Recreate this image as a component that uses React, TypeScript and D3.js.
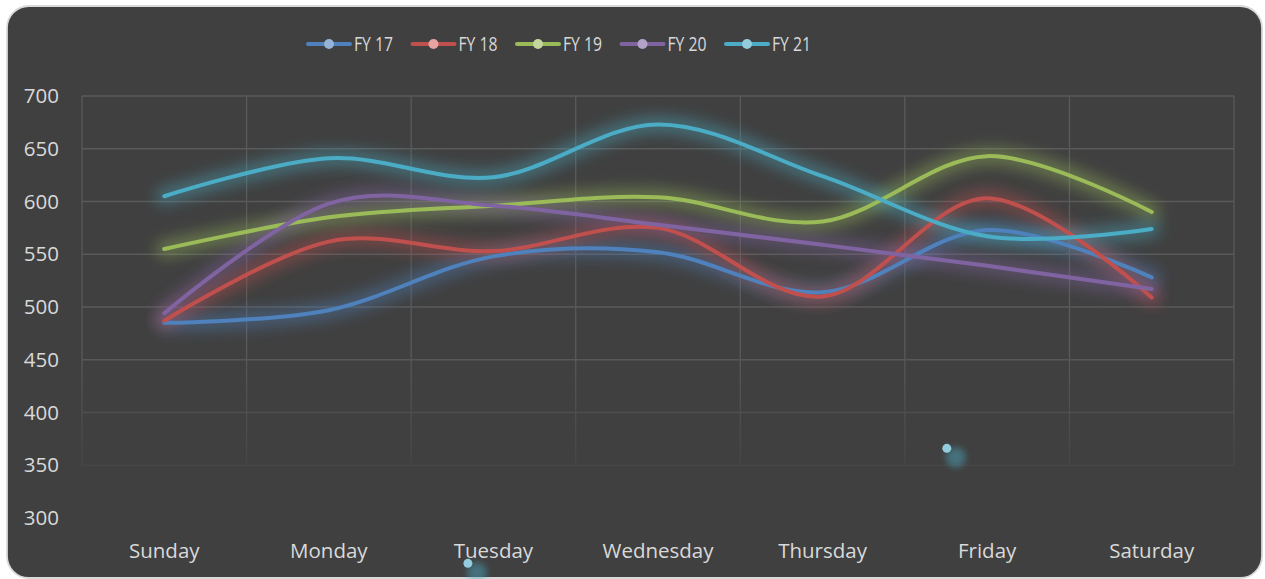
import React from "react";
import * as d3 from "d3";

const days = ["Sunday", "Monday", "Tuesday", "Wednesday", "Thursday", "Friday", "Saturday"];
const seriesNames = ["FY 17", "FY 18", "FY 19", "FY 20", "FY 21"];
const fy17 = [485, 497, 548, 552, 514, 573, 528];
const fy18 = [487, 562, 553, 575, 510, 603, 509];
const fy19 = [555, 585, 596, 604, 581, 643, 590];
const fy20 = [494, 598, 596, 578, 559, 539, 517];
const fy21 = [605, 641, 623, 673, 624, 567, 574];
const yTicks = [300, 350, 400, 450, 500, 550, 600, 650, 700];
const gridTicks = [350, 400, 450, 500, 550, 600, 650, 700];
const lineColors = ["#4f81bd", "#c0504d", "#9bbb59", "#8064a2", "#4bacc6"];
const markerColors = ["#95b3d7", "#e6a3a1", "#c3d69b", "#b3a2c7", "#93cddd"];
// stray FY 21 markers visible in the reference (category position, value)
const strayMarkers = [
  { pos: 1.845, value: 257 },
  { pos: 4.755, value: 366 },
];

const W = 1265;
const H = 579;
const plotLeft = 82;
const plotRight = 1234;
const font = "'Open Sans', 'Noto Sans', sans-serif";

export default function App() {
  const allSeries = [fy17, fy18, fy19, fy20, fy21];
  const x = d3.scaleBand<string>().domain(days).range([plotLeft, plotRight]);
  const xc = (i: number) => (x(days[i]) as number) + x.bandwidth() / 2;
  const xPos = d3.scaleLinear().domain([0, days.length - 1]).range([xc(0), xc(days.length - 1)]);
  const y = d3.scaleLinear().domain([300, 700]).range([518, 96]);
  const line = d3
    .line<number>()
    .x((_, i) => xc(i))
    .y((v) => y(v))
    .curve(d3.curveCardinal.tension(0));

  const legendX0 = 308;
  const legendStep = 104.5;

  return (
    <svg
      width={W}
      height={H}
      style={{ position: "absolute", left: 0, top: 0, display: "block" }}
    >
      <defs>
        <filter id="glow" x="-20%" y="-50%" width="140%" height="200%">
          <feGaussianBlur stdDeviation="7" />
        </filter>
        <filter id="dotglow" x="-100%" y="-100%" width="300%" height="300%">
          <feGaussianBlur stdDeviation="3" />
        </filter>
        <linearGradient id="fadeGrad" gradientUnits="userSpaceOnUse"
          x1="0" y1={y(460)} x2="0" y2={y(350)}>
          <stop offset="0" stopColor="#fff" stopOpacity="1" />
          <stop offset="1" stopColor="#fff" stopOpacity="0.25" />
        </linearGradient>
        <mask id="fadeMask" maskUnits="userSpaceOnUse" x="0" y="0" width={W} height={H}>
          <rect x={0} y={0} width={W} height={H} fill="url(#fadeGrad)" />
        </mask>
      </defs>
      <rect x={7} y={6} width={1255} height={572} rx={22} ry={22} fill="#404040" stroke="#d9d9d9" strokeWidth={1.8} />

      <g mask="url(#fadeMask)">
        {gridTicks.map((t) => (
          <line key={"h" + t} x1={plotLeft} x2={plotRight} y1={y(t)} y2={y(t)} stroke="#5a5a5a" strokeWidth={1.3} />
        ))}
        {d3.range(days.length + 1).map((i) => {
          const xx = i < days.length ? (x(days[i]) as number) : plotRight;
          return (
            <line key={"v" + i} x1={xx} x2={xx} y1={y(700)} y2={y(350)} stroke="#5a5a5a" strokeWidth={1.3} />
          );
        })}
      </g>

      {yTicks.map((t) => (
        <text key={"yt" + t} x={59} y={y(t)} dy="0.35em" textAnchor="end" fill="#d9d9d9" fontSize={20.5} fontFamily={font}>
          {t}
        </text>
      ))}
      {days.map((d, i) => (
        <text key={"xt" + d} x={xc(i)} y={551} dy="0.35em" textAnchor="middle" fill="#d9d9d9" fontSize={20.5} fontFamily={font}>
          {d}
        </text>
      ))}

      {allSeries.map((s, k) => (
        <path key={"g" + k} d={line(s) as string} fill="none" stroke={lineColors[k]} strokeWidth={18} strokeOpacity={0.4}
          strokeLinecap="round" filter="url(#glow)" />
      ))}
      {allSeries.map((s, k) => (
        <path key={"l" + k} d={line(s) as string} fill="none" stroke={lineColors[k]} strokeWidth={4}
          strokeLinecap="round" strokeLinejoin="round" />
      ))}

      {strayMarkers.map((m, i) => (
        <g key={"sm" + i}>
          <circle cx={xPos(m.pos) + 9} cy={y(m.value) + 9} r={10} fill="#4bacc6" opacity={0.45} filter="url(#dotglow)" />
          <circle cx={xPos(m.pos)} cy={y(m.value)} r={4.5} fill={markerColors[4]} />
        </g>
      ))}

      {seriesNames.map((n, k) => {
        const lx = legendX0 + k * legendStep;
        return (
          <g key={"lg" + k}>
            <line x1={lx} x2={lx + 42} y1={44} y2={44} stroke={lineColors[k]} strokeWidth={4} strokeLinecap="round" />
            <circle cx={lx + 21} cy={44} r={5} fill={markerColors[k]} />
            <text x={lx + 46} y={44} dy="0.35em" fill="#d9d9d9" fontSize={20} fontFamily={font}
              textLength={39} lengthAdjust="spacingAndGlyphs">
              {n}
            </text>
          </g>
        );
      })}
    </svg>
  );
}
